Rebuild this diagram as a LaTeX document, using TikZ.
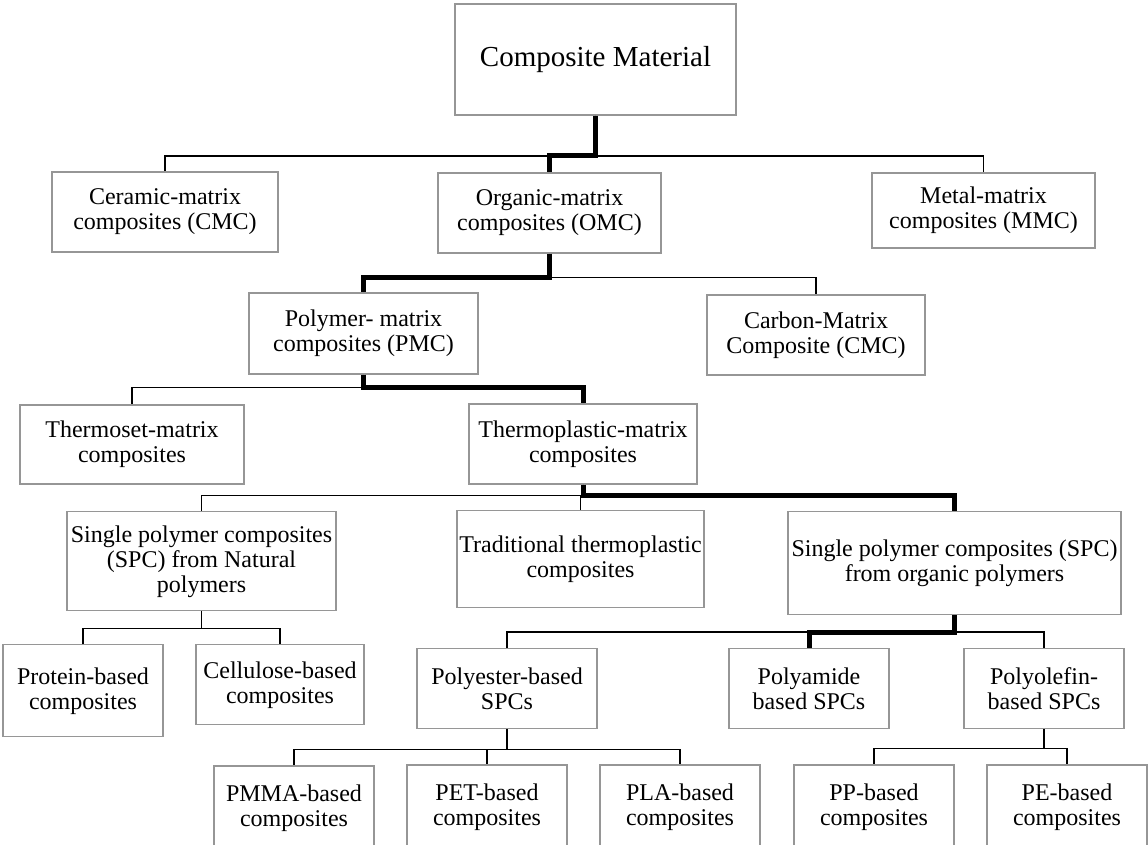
\documentclass[tikz,border=0pt]{standalone}
\usepackage{fontspec}
\setmainfont{Liberation Serif}
\usetikzlibrary{calc}
\definecolor{boxgray}{RGB}{150,150,150}
\tikzset{
  box/.style={draw=boxgray, line width=1.3pt, fill=white, align=center, inner sep=0pt,
    font=\fontsize{24}{25}\selectfont},
  link/.style={line width=1.8pt, black},
  mainlink/.style={line width=5pt, black}
}
\begin{document}
\begin{tikzpicture}[x=1pt,y=-1pt]
        \clip (0,0) rectangle (1148,845);
        \fill[white] (0,0) rectangle (1148,845);
        \node[box, minimum width=281pt, minimum height=111pt, font=\fontsize{29}{31}\selectfont] (top) at (595.5,59.5) {Composite Material};
        \node[box, minimum width=226pt, minimum height=80pt] (cer) at (165,212) {Ceramic-matrix\\composites (CMC)};
        \node[box, minimum width=223pt, minimum height=80pt] (omc) at (549.5,213) {Organic-matrix\\composites (OMC)};
        \node[box, minimum width=223pt, minimum height=75pt] (mmc) at (983.5,210.5) {Metal-matrix\\composites (MMC)};
        \node[box, minimum width=229pt, minimum height=81pt] (pmc) at (363.5,333.5) {Polymer- matrix\\composites (PMC)};
        \node[box, minimum width=218pt, minimum height=80pt] (carb) at (816,335) {Carbon-Matrix\\Composite (CMC)};
        \node[box, minimum width=224pt, minimum height=79pt] (tset) at (132,444.5) {Thermoset-matrix\\composites};
        \node[box, minimum width=228pt, minimum height=80pt] (tplast) at (583,444) {Thermoplastic-matrix\\composites};
        \node[box, minimum width=269pt, minimum height=99pt] (spcn) at (201.5,561.3) {Single polymer composites\\(SPC) from Natural\\polymers};
        \node[box, minimum width=247pt, minimum height=97pt] (trad) at (580.5,559) {Traditional thermoplastic\\composites};
        \node[box, minimum width=333pt, minimum height=103pt] (spco) at (954.5,563) {Single polymer composites (SPC)\\from organic polymers};
        \node[box, minimum width=160pt, minimum height=92pt] (prot) at (83,690.8) {Protein-based\\composites};
        \node[box, minimum width=168pt, minimum height=80pt] (cell) at (280,684.8) {Cellulose-based\\composites};
        \node[box, minimum width=180pt, minimum height=80pt] (pester) at (507,688.5) {Polyester-based\\SPCs};
        \node[box, minimum width=160pt, minimum height=80pt] (pamide) at (809,688.5) {Polyamide\\based SPCs};
        \node[box, minimum width=160pt, minimum height=80pt] (polef) at (1044,688.5) {Polyolefin-\\based SPCs};
        \node[box, minimum width=160pt, minimum height=84pt] (pmma) at (294,808) {PMMA-based\\composites};
        \node[box, minimum width=160pt, minimum height=84pt] (pet) at (487,807) {PET-based\\composites};
        \node[box, minimum width=160pt, minimum height=84pt] (pla) at (680,807) {PLA-based\\composites};
        \node[box, minimum width=160pt, minimum height=84pt] (pp) at (874,807) {PP-based\\composites};
        \node[box, minimum width=160pt, minimum height=84pt] (pe) at (1067,807) {PE-based\\composites};
        \coordinate (y1) at (0,156);
        \coordinate (y2) at (0,277.5);
        \coordinate (y3) at (0,387.5);
        \coordinate (y4) at (0,495.5);
        \coordinate (y5a) at (0,628.5);
        \coordinate (y5b) at (0,632);
        \coordinate (y6a) at (0,749.5);
        \coordinate (y6b) at (0,748.5);
        \draw[link] (top.south) -- (top.south |- y1) -| (cer.north);
        \draw[link] (top.south) -- (top.south |- y1) -| (mmc.north);
        \draw[link] (omc.south) -- (omc.south |- y2) -| (carb.north);
        \draw[link] (pmc.south) -- (pmc.south |- y3) -| (tset.north);
        \draw[link] (tplast.south) -- (tplast.south |- y4) -| (spcn.north);
        \draw[link] (tplast.south) -- (tplast.south |- y4) -| (trad.north);
        \draw[link] (spcn.south) -- (spcn.south |- y5a) -| (prot.north);
        \draw[link] (spcn.south) -- (spcn.south |- y5a) -| (cell.north);
        \draw[link] (spco.south) -- (spco.south |- y5b) -| (pester.north);
        \draw[link] (spco.south) -- (spco.south |- y5b) -| (polef.north);
        \draw[link] (pester.south) -- (pester.south |- y6a) -| (pmma.north);
        \draw[link] (pester.south) -- (pester.south |- y6a) -| (pet.north);
        \draw[link] (pester.south) -- (pester.south |- y6a) -| (pla.north);
        \draw[link] (polef.south) -- (polef.south |- y6b) -| (pp.north);
        \draw[link] (polef.south) -- (polef.south |- y6b) -| (pe.north);
        \draw[mainlink] (top.south) -- (top.south |- y1) -| (omc.north);
        \draw[mainlink] (omc.south) -- (omc.south |- y2) -| (pmc.north);
        \draw[mainlink] (pmc.south) -- (pmc.south |- y3) -| (tplast.north);
        \draw[mainlink] (tplast.south) -- (tplast.south |- y4) -| (spco.north);
        \draw[mainlink] (spco.south) -- (spco.south |- y5b) -| (pamide.north);
\end{tikzpicture}
\end{document}
